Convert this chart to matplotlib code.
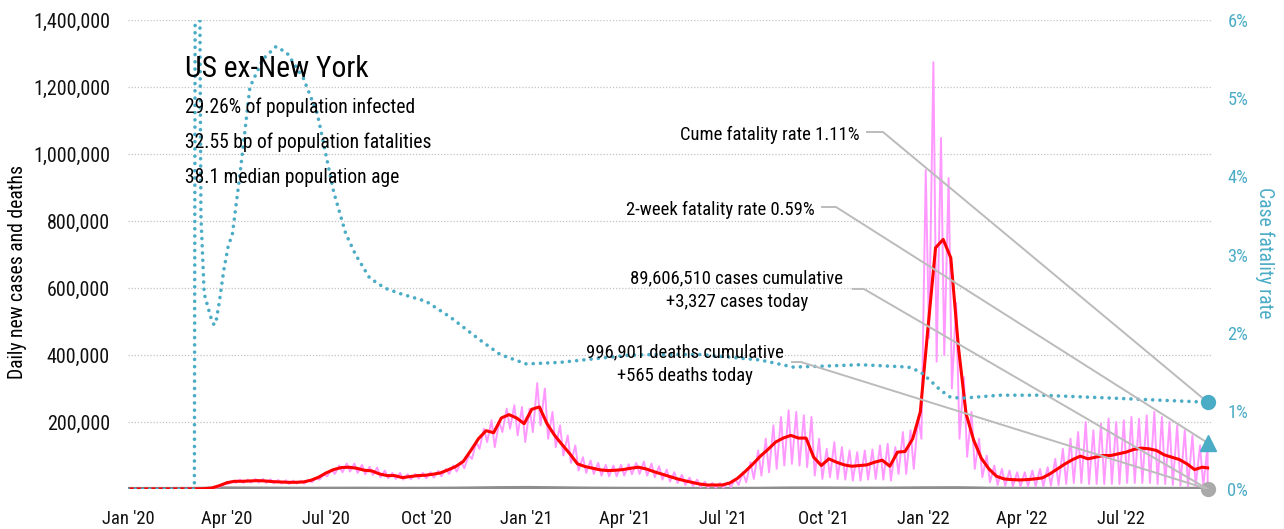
import numpy as np
import pandas as pd
import matplotlib
matplotlib.use("Agg")
import matplotlib.pyplot as plt
import matplotlib.dates as mdates
from matplotlib import font_manager as fm
from matplotlib.ticker import FuncFormatter, FixedLocator
from matplotlib.lines import Line2D
from matplotlib.transforms import IdentityTransform

# weekly 7-day average of new cases (thousands), weeks starting 2020-01-01
red_7day = [0, 0, 0, 0, 0, 0, 0, 0, 0, 0.3,
            1, 3, 10, 19, 23, 23, 24, 25, 24, 22,
            21, 20, 20, 21, 26, 35, 48, 58, 64, 65,
            62, 56, 54, 45, 40, 40, 34, 37, 40, 41,
            44, 48, 57, 67, 82, 115, 150, 174, 168, 212,
            222, 212, 195, 238, 245, 195, 160, 132, 105, 75,
            67, 62, 57, 55, 56, 58, 62, 65, 60, 52,
            45, 38, 31, 25, 20, 15, 12, 12, 12, 18,
            32, 52, 74, 98, 118, 140, 152, 160, 152, 152,
            95, 70, 90, 80, 72, 68, 70, 72, 80, 86,
            68, 110, 112, 150, 230, 480, 720, 745, 690, 424,
            225, 146, 92, 60, 38, 30, 28, 27, 28, 30,
            33, 45, 60, 75, 88, 98, 90, 95, 100, 100,
            105, 110, 118, 122, 120, 115, 102, 95, 88, 75,
            58, 65]
red_last = 63

# weekly high / low of the raw daily new cases (thousands)
daily_hi = [0, 0, 0, 0, 0, 0, 0, 0, 0, 0.5,
            2, 5, 15, 24, 28, 28, 30, 30, 29, 27,
            26, 25, 25, 27, 33, 43, 58, 70, 76, 76,
            72, 66, 64, 55, 48, 48, 44, 45, 48, 50,
            54, 60, 70, 82, 100, 140, 180, 205, 200, 240,
            250, 245, 240, 316, 300, 230, 190, 160, 130, 95,
            85, 78, 72, 70, 72, 74, 78, 82, 76, 68,
            58, 50, 42, 34, 28, 22, 18, 18, 20, 30,
            50, 80, 115, 150, 190, 215, 235, 230, 220, 215,
            150, 120, 140, 125, 115, 110, 115, 118, 130, 135,
            125, 170, 175, 215, 952, 1274, 1048, 928, 555, 334,
            230, 150, 100, 70, 60, 55, 50, 50, 55, 60,
            65, 90, 120, 150, 170, 200, 175, 195, 210, 200,
            205, 215, 210, 220, 230, 215, 200, 190, 175, 160,
            130, 130]
daily_lo = [0, 0, 0, 0, 0, 0, 0, 0, 0, 0.2,
            0.5, 2, 8, 15, 18, 18, 19, 19, 18, 17,
            16, 15, 16, 16, 20, 28, 38, 45, 50, 52,
            48, 44, 42, 35, 32, 30, 28, 29, 31, 32,
            34, 38, 45, 52, 62, 90, 120, 140, 125, 170,
            180, 160, 140, 170, 190, 150, 125, 100, 78, 55,
            48, 45, 40, 38, 38, 40, 44, 45, 40, 35,
            28, 22, 18, 12, 9, 6, 4, 4, 4, 6,
            12, 20, 30, 40, 50, 60, 70, 75, 70, 65,
            40, 30, 35, 30, 28, 25, 25, 28, 30, 28,
            25, 45, 45, 60, 150, 450, 380, 400, 300, 150,
            96, 60, 35, 20, 12, 10, 8, 8, 8, 8,
            8, 10, 12, 15, 18, 18, 15, 15, 15, 15,
            15, 18, 18, 18, 18, 15, 15, 12, 10, 8,
            8, 10]
cases_today = 3.327

# monthly daily deaths (thousands), Jan 2020 .. Sep 2022
deaths_monthly = [0, 0, 0.3, 1.6, 1.2, 0.7, 0.8, 0.9, 0.7, 0.7, 1.2, 2.3,
                  3.0, 2.0, 1.1, 0.6, 0.5, 0.3, 0.3, 0.6, 1.5, 1.6, 1.1, 1.2,
                  2.0, 2.3, 1.0, 0.5, 0.3, 0.3, 0.4, 0.4, 0.4]
deaths_today = 0.565

# cumulative case fatality rate (%), by days since 2020-01-01
cfr_day = [0, 57, 61, 62, 65, 67, 70, 73, 76, 79,
           81, 84, 88, 92, 96, 103, 112, 124, 136, 146,
           161, 174, 183, 189, 200, 209, 222, 236, 250, 274,
           296, 324, 342, 366, 397, 459, 480, 526, 581, 611,
           635, 673, 717, 728, 737, 746, 755, 765, 783, 801,
           839, 909, 992]
cfr_pct = [0, 0, 0, 9, 9, 3.5, 2.5, 2.35, 2.2, 2.1,
           2.15, 2.4, 2.8, 3.1, 3.27, 4.04, 5.14, 5.5, 5.66, 5.58,
           5.26, 4.8, 4.2, 3.8, 3.27, 3.0, 2.7, 2.57, 2.5, 2.4,
           2.2, 1.9, 1.72, 1.6, 1.62, 1.71, 1.72, 1.72, 1.65, 1.56,
           1.57, 1.59, 1.56, 1.5, 1.39, 1.27, 1.18, 1.16, 1.18, 1.2,
           1.2, 1.16, 1.11]
two_week_cfr = 0.59

title = "US ex-New York"
stats = ["29.26% of population infected",
         "32.55 bp of population fatalities",
         "38.1 median population age"]

# pick a narrow face if one is installed (the reference uses a condensed font)
names = {f.name for f in fm.fontManager.ttflist}
family, stretch = "DejaVu Sans", "normal"
for cand in ["Liberation Sans Narrow", "Roboto Condensed", "Open Sans Condensed",
             "Noto Sans Condensed", "DejaVu Sans Condensed", "Arial Narrow"]:
    if cand in names:
        family = cand
        break
else:
    cond = [f for f in fm.fontManager.ttflist
            if str(f.stretch) in ("condensed", "semi-condensed", "extra-condensed")
            and f.style == "normal"]
    if cond:
        family, stretch = cond[0].name, cond[0].stretch
plt.rcParams["font.family"] = [family, "DejaVu Sans"]
plt.rcParams["font.stretch"] = stretch

start = pd.Timestamp("2020-01-01")
end = pd.Timestamp("2022-09-19")
weeks = pd.date_range(start, periods=len(red_7day), freq="7D")

TEAL = "#4bacc6"
PINK = "#ff99ff"
LEADER = "#bbbbbb"
W, H = 1284, 529

fig = plt.figure(figsize=(W / 100, H / 100), dpi=100)
renderer = fig.canvas.get_renderer()


def fit(s, target_px, ref=14):
    # font size so that s is about target_px wide
    t = fig.text(0, 0, s, fontsize=ref)
    w = t.get_window_extent(renderer).width
    t.remove()
    return ref * target_px / w


fs_title = fit(title, 185)
fs_stats = fit(stats[1], 248)
fs_note = fit("Cume fatality rate 1.11%", 180)
fs_tick = fit("1,400,000", 78)
fs_xtick = fit("Jan '20", 53)
fs_rtick = fit("6%", 21)
fs_label = fit("Case fatality rate", 133)

ax = fig.add_axes([128 / W, 40 / H, 1084 / W, 469 / H])
ax2 = ax.twinx()

# raw daily cases as a zig-zag between weekly lows and highs
px, py = [], []
for w, lo, hi in zip(weeks, daily_lo, daily_hi):
    px += [w + pd.Timedelta(days=1), w + pd.Timedelta(days=5)]
    py += [lo * 1000, hi * 1000]
px.append(end)
py.append(cases_today * 1000)

months = pd.date_range(start, periods=len(deaths_monthly), freq="MS")
ax.plot(list(months) + [end], np.array(deaths_monthly + [deaths_today]) * 1000,
        color="#8e8e8e", lw=3, zorder=2)
ax.plot(px, py, color=PINK, lw=1.4, zorder=3)
ax.plot(list(weeks) + [end], np.array(red_7day + [red_last]) * 1000,
        color="#ff0000", lw=2.2, zorder=4)
ax.plot([end], [0], "o", color="#aaaaaa", ms=10, zorder=6, clip_on=False)

cfr_dates = [start + pd.Timedelta(days=d) for d in cfr_day]
ax2.plot(cfr_dates, cfr_pct, color=TEAL, lw=2.6, linestyle=(0, (0.01, 2.0)),
         dash_capstyle="round", zorder=3)
ax2.plot([end], [cfr_pct[-1]], "o", color=TEAL, ms=10, zorder=6, clip_on=False)
ax2.plot([end], [two_week_cfr], "^", color=TEAL, ms=11, zorder=6, clip_on=False)

ax.set_xlim(start, pd.Timestamp("2022-09-23"))
ax.set_ylim(0, 1400000)
ax2.set_ylim(0, 6)

ax.xaxis.set_major_locator(mdates.MonthLocator(bymonth=[1, 4, 7, 10]))
ax.xaxis.set_major_formatter(mdates.DateFormatter("%b '%y"))
ax.yaxis.set_major_locator(FixedLocator(np.arange(200000, 1400001, 200000)))
ax.yaxis.set_major_formatter(FuncFormatter(lambda v, p: f"{int(v):,}"))
ax2.yaxis.set_major_locator(FixedLocator(np.arange(0, 7)))
ax2.yaxis.set_major_formatter(FuncFormatter(lambda v, p: f"{int(v)}%"))

ax.tick_params(axis="x", length=0, pad=15, labelsize=fs_xtick, colors="#111111")
ax.tick_params(axis="y", length=0, pad=13, labelsize=fs_tick, colors="#111111")
ax2.tick_params(axis="y", length=0, pad=11, labelsize=fs_rtick, colors=TEAL)
ax.grid(axis="y", color="#c4c4c4", linestyle=(0, (1, 1.5)), lw=0.9)
for a in (ax, ax2):
    for s in a.spines.values():
        s.set_visible(False)

fig.text(18 / W, 1 - 272 / H, "Daily new cases and deaths", fontsize=fs_label,
         rotation=90, ha="center", va="center")
fig.text(1265 / W, 1 - 253 / H, "Case fatality rate", fontsize=fs_label,
         color=TEAL, rotation=270, ha="center", va="center")

fig.text(185 / W, 1 - 77 / H, title, fontsize=fs_title, va="baseline")
for k, line in enumerate(stats):
    fig.text(185 / W, 1 - (113 + 35 * k) / H, line, fontsize=fs_stats,
             va="baseline")

fig.text(860 / W, 1 - 140 / H, "Cume fatality rate 1.11%", fontsize=fs_note,
         ha="right", va="baseline")
fig.text(815 / W, 1 - 215 / H, "2-week fatality rate 0.59%", fontsize=fs_note,
         ha="right", va="baseline")
fig.text(737 / W, 1 - 283 / H, "89,606,510 cases cumulative", fontsize=fs_note,
         ha="center", va="baseline")
fig.text(737 / W, 1 - 307 / H, "+3,327 cases today", fontsize=fs_note,
         ha="center", va="baseline")
fig.text(685 / W, 1 - 357 / H, "996,901 deaths cumulative", fontsize=fs_note,
         ha="center", va="baseline")
fig.text(685 / W, 1 - 381 / H, "+565 deaths today", fontsize=fs_note,
         ha="center", va="baseline")

# leader lines: short horizontal stub, then straight to the end marker
xend = mdates.date2num(end)
targets = [
    ((867, 132), (883, 132), ax2.transData.transform((xend, cfr_pct[-1]))),
    ((822, 207), (836, 207), ax2.transData.transform((xend, two_week_cfr))),
    ((853, 289), (864, 289), ax.transData.transform((xend, 0))),
    ((792, 362), (801, 362), ax.transData.transform((xend, 0))),
]
for (x0, y0), (x1, y1), (tx, ty) in targets:
    ln = Line2D([x0, x1, tx], [H - y0, H - y1, ty], transform=IdentityTransform(),
                color=LEADER, lw=1.4, zorder=5)
    ax2.add_artist(ln)

fig.savefig("out.png", dpi=100)
